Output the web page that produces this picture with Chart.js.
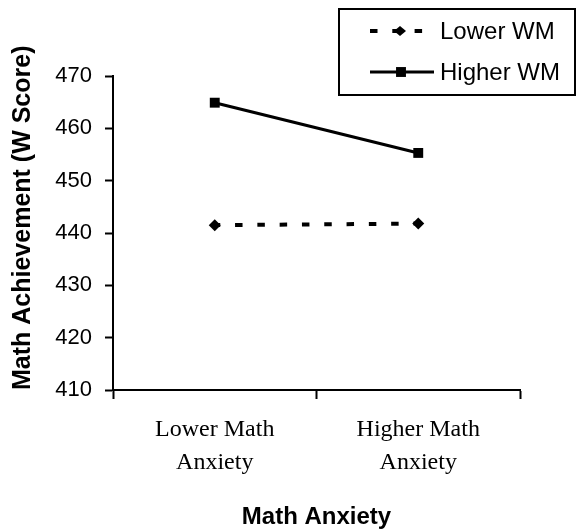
<!DOCTYPE html>
<html>
<head>
<meta charset="utf-8">
<script src="https://cdn.jsdelivr.net/npm/chart.js@4"></script>
<style>
html, body { margin: 0; padding: 0; background: #fff; }
#wrap { width: 577px; height: 529px; }
</style>
</head>
<body>
<div id="wrap"><canvas id="grafico" width="577" height="529"></canvas></div>
<script>
const categorias = [['Lower Math', 'Anxiety'], ['Higher Math', 'Anxiety']];
const lowerWM = [441.5, 441.8];
const higherWM = [464.9, 455.3];
const nomesSeries = ['Lower WM', 'Higher WM'];
const yMin = 410, yMax = 470, yPasso = 10;

const sans = "'Liberation Sans', Arial, sans-serif";
const serif = "'Liberation Serif', 'Times New Roman', serif";

// legenda desenhada a mao (caixa no canto superior direito)
const legendaBox = {
    id: 'legendaBox',
    afterDraw(chart) {
        const ctx = chart.ctx;
        ctx.save();
        ctx.strokeStyle = '#000';
        ctx.lineWidth = 2;
        ctx.strokeRect(339, 9, 236, 86);
        const linhas = [31, 72];
        const fimLinha = [423, 434];
        chart.data.datasets.forEach((ds, i) => {
            const y = linhas[i];
            ctx.beginPath();
            ctx.setLineDash(ds.borderDash || []);
            ctx.lineDashOffset = 0;
            ctx.lineWidth = ds.borderWidth;
            ctx.moveTo(370, y);
            ctx.lineTo(fimLinha[i], y);
            ctx.stroke();
            ctx.setLineDash([]);
            ctx.fillStyle = '#000';
            ctx.beginPath();
            if (ds.pointStyle === 'rectRot') {
                const r = ds.pointRadius;
                ctx.moveTo(400, y - r + 1);
                ctx.lineTo(400 + r, y);
                ctx.lineTo(400, y + r - 1);
                ctx.lineTo(400 - r, y);
                ctx.closePath();
            } else {
                const s = ds.pointRadius * Math.SQRT1_2;
                ctx.rect(401 - s, y - s, 2 * s, 2 * s);
            }
            ctx.fill();
            ctx.font = '24px ' + sans;
            ctx.textBaseline = 'middle';
            ctx.fillText(ds.label, 440, y + 1);
        });
        ctx.restore();
    }
};

const ctxGrafico = document.getElementById('grafico').getContext('2d');
const grafico = new Chart(ctxGrafico, {
    type: 'line',
    data: {
        labels: categorias,
        datasets: [{
            label: nomesSeries[0],
            data: lowerWM,
            borderColor: '#000',
            backgroundColor: '#000',
            borderWidth: 4,
            borderDash: [7.5, 14.8],
            borderDashOffset: 2,
            pointStyle: 'rectRot',
            pointRadius: 6,
            pointBorderWidth: 0,
            fill: false
        }, {
            label: nomesSeries[1],
            data: higherWM,
            borderColor: '#000',
            backgroundColor: '#000',
            borderWidth: 3,
            pointStyle: 'rect',
            pointRadius: 7,
            pointBorderWidth: 0,
            fill: false
        }]
    },
    options: {
        responsive: false,
        animation: false,
        devicePixelRatio: 1,
        layout: { padding: { top: 76, right: 57, bottom: 0, left: 0 } },
        plugins: {
            legend: { display: false },
            tooltip: { enabled: false }
        },
        scales: {
            x: {
                offset: true,
                afterFit: s => { s.height = 139; },
                border: { display: true, color: '#000', width: 2 },
                grid: { display: true, offset: true, drawOnChartArea: false, drawTicks: true, tickLength: 9, tickWidth: 2, tickColor: '#000' },
                ticks: {
                    color: '#000',
                    padding: 14,
                    maxRotation: 0,
                    font: { family: serif, size: 24, lineHeight: 1.38 }
                },
                title: {
                    display: true,
                    text: 'Math Anxiety',
                    color: '#000',
                    padding: { top: 0, bottom: -3 },
                    font: { family: sans, size: 24, weight: 'bold' }
                }
            },
            y: {
                min: yMin,
                max: yMax,
                afterFit: s => { s.width = 113; },
                border: { display: true, color: '#000', width: 2 },
                grid: { display: true, drawOnChartArea: false, drawTicks: true, tickLength: 8, tickWidth: 2, tickColor: '#000' },
                ticks: {
                    stepSize: yPasso,
                    color: '#000',
                    padding: 13,
                    font: { family: sans, size: 22 }
                },
                title: {
                    display: true,
                    text: 'Math Achievement (W Score)',
                    align: 'start',
                    color: '#000',
                    padding: { top: 8, bottom: 0 },
                    font: { family: sans, size: 25, weight: 'bold' }
                }
            }
        }
    },
    plugins: [legendaBox]
});
</script>
</body>
</html>
